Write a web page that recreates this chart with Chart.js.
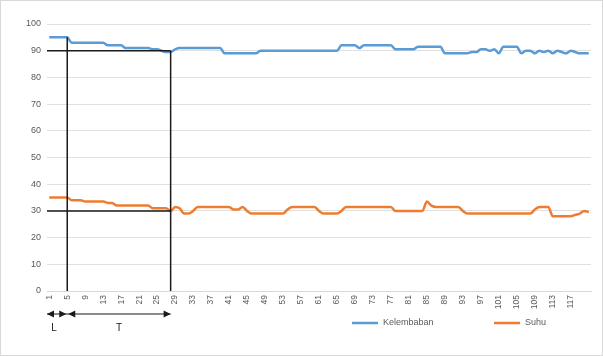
<!DOCTYPE html>
<html>
<head>
<meta charset="utf-8">
<script src="https://cdn.jsdelivr.net/npm/chart.js@4/dist/chart.umd.min.js"></script>
<style>
  html, body { margin: 0; padding: 0; background: #ffffff; }
  #wrap { position: relative; width: 603px; height: 356px; }
</style>
</head>
<body>
<div id="wrap"><canvas id="c" width="603" height="356"></canvas></div>
<script>
// Sample numbers (x axis)
const categories = [
  1,2,3,4,5,6,7,8,9,10,11,12,13,14,15,16,17,18,19,20,
  21,22,23,24,25,26,27,28,29,30,31,32,33,34,35,36,37,38,39,40,
  41,42,43,44,45,46,47,48,49,50,51,52,53,54,55,56,57,58,59,60,
  61,62,63,64,65,66,67,68,69,70,71,72,73,74,75,76,77,78,79,80,
  81,82,83,84,85,86,87,88,89,90,91,92,93,94,95,96,97,98,99,100,
  101,102,103,104,105,106,107,108,109,110,111,112,113,114,115,116,117,118,119,120,
  121
];

// Relative humidity (%)
const kelembaban = [
  95,95,95,95,95,93,93,93,93,93,93,93,93,92,92,92,92,91,91,91,
  91,91,91,90.5,90.5,90,89.5,89.5,90.5,91,91,91,91,91,91,91,91,91,91,89,
  89,89,89,89,89,89,89,90,90,90,90,90,90,90,90,90,90,90,90,90,
  90,90,90,90,90,92,92,92,92,91,92,92,92,92,92,92,92,90.5,90.5,90.5,
  90.5,90.5,91.5,91.5,91.5,91.5,91.5,91.5,89,89,89,89,89,89,89.5,89.5,90.5,90.5,90,90.5,
  89,91.5,91.5,91.5,91.5,89,90,90,89,90,89.5,90,89,90,89.5,89,90,89.5,89,89,
  89
];

// Temperature (°C)
const suhu = [
  35,35,35,35,35,34,34,34,33.5,33.5,33.5,33.5,33.5,33,33,32,32,32,32,32,
  32,32,32,31,31,31,31,30,31.5,31,29,29,30,31.5,31.5,31.5,31.5,31.5,31.5,31.5,
  31.5,30.5,30.5,31.5,30,29,29,29,29,29,29,29,29,30.5,31.5,31.5,31.5,31.5,31.5,31.5,
  30,29,29,29,29,30,31.5,31.5,31.5,31.5,31.5,31.5,31.5,31.5,31.5,31.5,31.5,30,30,30,
  30,30,30,30,33.5,32,31.5,31.5,31.5,31.5,31.5,31.5,30,29,29,29,29,29,29,29,
  29,29,29,29,29,29,29,29,30.5,31.5,31.5,31.5,28,28,28,28,28,28.5,29,30,
  29.5
];

// Category labels shown on the axis (every fourth sample)
const shownTicks = [1,5,9,13,17,21,25,29,33,37,41,45,49,53,57,61,65,69,73,77,81,85,89,93,97,101,105,109,113,117];

// Reference guides: L / T phase boundaries and the levels they meet
const phaseStart = 5;     // end of L phase
const phaseEnd = 28;      // end of T phase
const humidityLevel = 90;
const tempLevel = 30;
const phaseNames = ['L', 'T'];

const FONT = '"Liberation Sans", Arial, sans-serif';

const guides = {
  id: 'guides',
  beforeDraw(chart) {
    const ctx = chart.ctx;
    ctx.save();
    ctx.fillStyle = '#ffffff';
    ctx.fillRect(0, 0, chart.width, chart.height);
    ctx.strokeStyle = '#d9d9d9';
    ctx.lineWidth = 1;
    ctx.strokeRect(0.5, 0.5, chart.width - 1, chart.height - 1);
    ctx.restore();
  },
  afterDatasetsDraw(chart) {
    const ctx = chart.ctx;
    const x = chart.scales.x, y = chart.scales.y;
    const area = chart.chartArea;
    const xs = x.getPixelForValue(categories.indexOf(phaseStart));
    const xe = x.getPixelForValue(categories.indexOf(phaseEnd));
    const yH = y.getPixelForValue(humidityLevel);
    const yT = y.getPixelForValue(tempLevel);
    const yTop = y.getPixelForValue(kelembaban[categories.indexOf(phaseStart)]);
    ctx.save();
    ctx.strokeStyle = '#1a1a1a';
    ctx.lineWidth = 1.5;
    ctx.beginPath();
    ctx.moveTo(area.left, yH); ctx.lineTo(xe, yH);
    ctx.moveTo(area.left, yT); ctx.lineTo(xe, yT);
    ctx.moveTo(xs, yTop); ctx.lineTo(xs, area.bottom);
    ctx.moveTo(xe, yH); ctx.lineTo(xe, area.bottom);
    ctx.stroke();

    // double-headed arrows under the axis
    const ay = area.bottom + 23;
    const x0 = area.left;
    ctx.lineWidth = 1.2;
    ctx.beginPath();
    ctx.moveTo(x0, ay); ctx.lineTo(xe, ay);
    ctx.stroke();
    ctx.fillStyle = '#1a1a1a';
    const head = (tip, dir) => {
      ctx.beginPath();
      ctx.moveTo(tip, ay);
      ctx.lineTo(tip - dir * 7, ay - 3.5);
      ctx.lineTo(tip - dir * 7, ay + 3.5);
      ctx.closePath();
      ctx.fill();
    };
    head(x0, -1);
    head(xs - 1, 1);
    head(xs + 1, -1);
    head(xe, 1);

    ctx.font = '10px ' + FONT;
    ctx.textAlign = 'center';
    ctx.textBaseline = 'middle';
    ctx.fillText(phaseNames[0], (x0 + xs) / 2 - 3, ay + 14);
    ctx.fillText(phaseNames[1], (xs + xe) / 2, ay + 14);

    // series key
    const ly = area.bottom + 32;
    const keys = [
      { ds: chart.data.datasets[0], x: 352 },
      { ds: chart.data.datasets[1], x: 494 }
    ];
    ctx.font = '9px ' + FONT;
    ctx.textAlign = 'left';
    ctx.fillStyle = '#595959';
    keys.forEach(k => {
      ctx.strokeStyle = k.ds.borderColor;
      ctx.lineWidth = 2.5;
      ctx.beginPath();
      ctx.moveTo(k.x, ly); ctx.lineTo(k.x + 26, ly);
      ctx.stroke();
      ctx.fillText(k.ds.label, k.x + 31, ly);
    });
    ctx.restore();
  }
};

new Chart(document.getElementById('c'), {
  type: 'line',
  data: {
    labels: categories,
    datasets: [
      {
        label: 'Kelembaban',
        data: kelembaban,
        borderColor: '#5b9bd5',
        backgroundColor: '#5b9bd5',
        borderWidth: 2.5,
        pointRadius: 0,
        cubicInterpolationMode: 'monotone'
      },
      {
        label: 'Suhu',
        data: suhu,
        borderColor: '#ed7d31',
        backgroundColor: '#ed7d31',
        borderWidth: 2.5,
        pointRadius: 0,
        cubicInterpolationMode: 'monotone'
      }
    ]
  },
  options: {
    responsive: false,
    animation: false,
    events: [],
    layout: { padding: { top: 24, right: 11, bottom: 43, left: 14 } },
    plugins: {
      tooltip: { enabled: false },
      legend: { display: false }
    },
    scales: {
      x: {
        type: 'category',
        offset: true,
        grid: { display: false, drawTicks: false },
        border: { color: '#d9d9d9' },
        ticks: {
          autoSkip: false,
          minRotation: 90,
          maxRotation: 90,
          padding: 4,
          color: '#595959',
          font: { family: FONT, size: 8.5 },
          callback: function (value, index) {
            const c = categories[index];
            return shownTicks.includes(c) ? String(c) : '';
          }
        },
        afterFit(scale) { scale.height = 22; }
      },
      y: {
        min: 0,
        max: 100,
        grid: { color: '#e0e0e0', drawTicks: false },
        border: { display: false },
        ticks: {
          stepSize: 10,
          padding: 6,
          color: '#595959',
          font: { family: FONT, size: 9 }
        },
        afterFit(scale) { scale.width = 33; }
      }
    }
  },
  plugins: [guides]
});
</script>
</body>
</html>
